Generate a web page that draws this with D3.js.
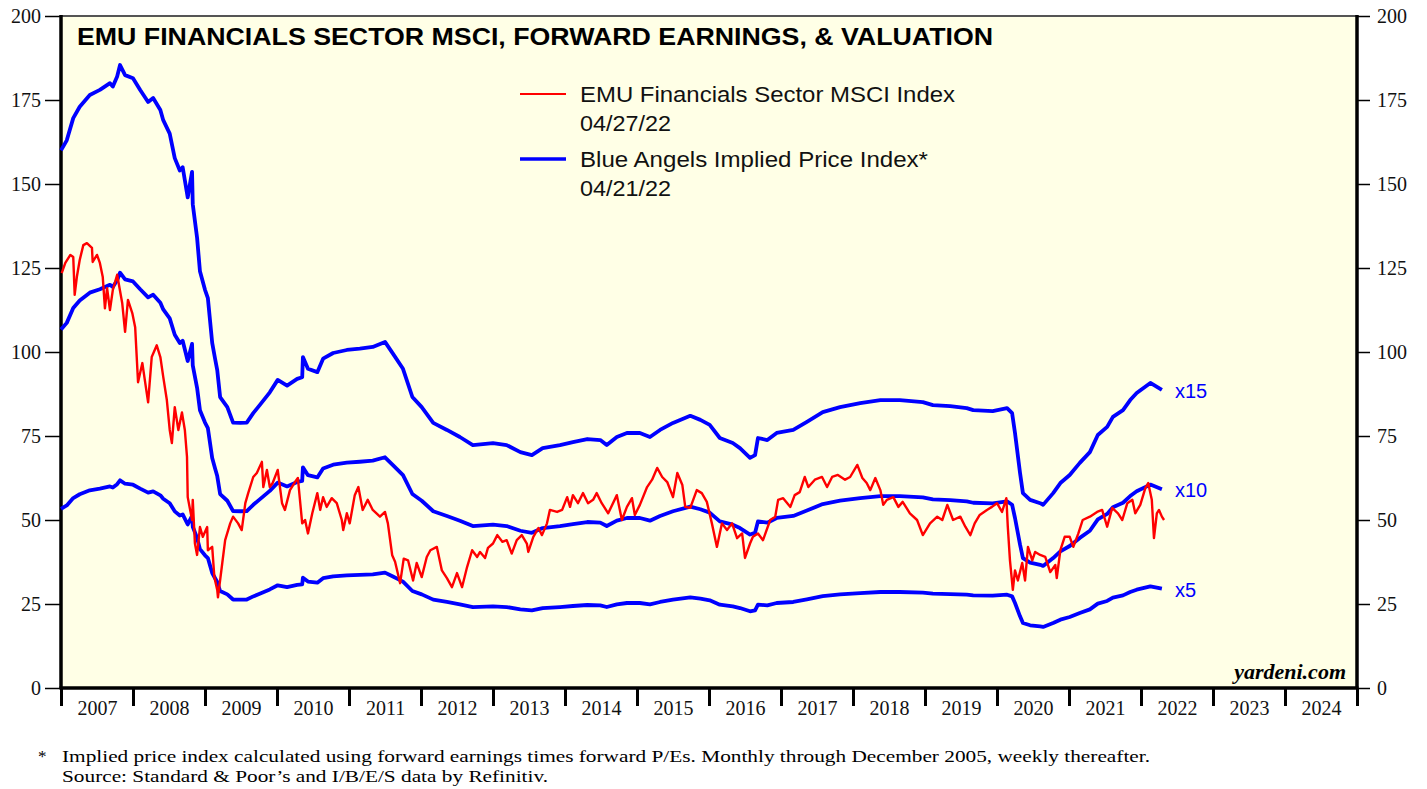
<!DOCTYPE html>
<html>
<head>
<meta charset="utf-8">
<script src="https://cdn.jsdelivr.net/npm/d3@7"></script>
<style>
  body { margin: 0; background: #fff; }
</style>
</head>
<body>
<svg id="chart" width="1427" height="789"></svg>
<script>
// EMU Financials MSCI index (decimal year, index value)
const msciYears = [
  2007.01, 2007.06, 2007.13, 2007.17, 2007.19, 2007.22, 2007.26, 2007.31, 2007.36, 2007.43,
  2007.44, 2007.50, 2007.54, 2007.58, 2007.61, 2007.64, 2007.68, 2007.72, 2007.78, 2007.85,
  2007.89, 2007.93, 2007.99, 2008.03, 2008.07, 2008.13, 2008.17, 2008.21, 2008.26, 2008.33,
  2008.38, 2008.42, 2008.47, 2008.51, 2008.54, 2008.58, 2008.63, 2008.68, 2008.72, 2008.75,
  2008.76, 2008.82, 2008.83, 2008.86, 2008.89, 2008.93, 2008.97, 2009.03, 2009.04, 2009.10,
  2009.13, 2009.17, 2009.18, 2009.24, 2009.28, 2009.35, 2009.39, 2009.46, 2009.51, 2009.56,
  2009.60, 2009.67, 2009.72, 2009.79, 2009.81, 2009.86, 2009.90, 2009.94, 2010.01, 2010.07,
  2010.11, 2010.18, 2010.25, 2010.29, 2010.35, 2010.39, 2010.43, 2010.49, 2010.56, 2010.60,
  2010.64, 2010.69, 2010.76, 2010.83, 2010.90, 2010.92, 2010.97, 2011.01, 2011.08, 2011.13,
  2011.19, 2011.26, 2011.33, 2011.43, 2011.50, 2011.54, 2011.60, 2011.64, 2011.71, 2011.76,
  2011.82, 2011.89, 2011.94, 2012.01, 2012.08, 2012.13, 2012.22, 2012.29, 2012.36, 2012.43,
  2012.50, 2012.57, 2012.64, 2012.71, 2012.78, 2012.82, 2012.89, 2012.93, 2013.00, 2013.06,
  2013.13, 2013.19, 2013.26, 2013.33, 2013.40, 2013.47, 2013.49, 2013.56, 2013.63, 2013.68,
  2013.75, 2013.79, 2013.89, 2013.96, 2014.03, 2014.07, 2014.11, 2014.18, 2014.25, 2014.32,
  2014.39, 2014.44, 2014.51, 2014.60, 2014.72, 2014.79, 2014.86, 2014.93, 2014.97, 2015.04,
  2015.14, 2015.21, 2015.28, 2015.35, 2015.42, 2015.50, 2015.56, 2015.63, 2015.67, 2015.74,
  2015.83, 2015.90, 2015.97, 2016.04, 2016.11, 2016.18, 2016.25, 2016.32, 2016.39, 2016.46,
  2016.50, 2016.57, 2016.61, 2016.68, 2016.75, 2016.85, 2016.92, 2016.96, 2017.03, 2017.13,
  2017.19, 2017.26, 2017.33, 2017.38, 2017.47, 2017.57, 2017.64, 2017.71, 2017.79, 2017.89,
  2017.96, 2018.06, 2018.13, 2018.19, 2018.24, 2018.31, 2018.38, 2018.42, 2018.47, 2018.56,
  2018.63, 2018.69, 2018.79, 2018.89, 2018.97, 2019.07, 2019.17, 2019.24, 2019.31, 2019.39,
  2019.49, 2019.56, 2019.63, 2019.69, 2019.76, 2019.86, 2019.93, 2020.00, 2020.07, 2020.13,
  2020.15, 2020.18, 2020.22, 2020.25, 2020.29, 2020.35, 2020.39, 2020.43, 2020.49, 2020.53,
  2020.60, 2020.67, 2020.74, 2020.81, 2020.83, 2020.88, 2020.94, 2021.01, 2021.06, 2021.13,
  2021.19, 2021.29, 2021.39, 2021.46, 2021.53, 2021.60, 2021.68, 2021.74, 2021.81, 2021.88,
  2021.92, 2021.99, 2022.06, 2022.10, 2022.15, 2022.18, 2022.22, 2022.25, 2022.29, 2022.32
];
const msciValues = [
  123.5, 126.5, 128.9, 128.3, 117, 122.3, 127.4, 131.8, 132.4, 131,
  126.8, 128.9, 126.5, 122.3, 113, 119, 112.5, 118.5, 123, 114.6,
  106, 115.5, 111.6, 107.4, 91, 96.7, 90.8, 85, 98.5, 102,
  98.5, 92.6, 85.7, 76.8, 72.9, 83.6, 76.8, 82, 76.8, 68.8,
  56.8, 50, 56, 43, 39.6, 47.9, 45, 47.9, 41, 42,
  33, 29.2, 27, 37.2, 44, 49, 51, 49, 47, 55,
  58, 62.8, 64, 67.3, 59.8, 64.9, 59.8, 61, 64.9, 55,
  53, 58.9, 61.3, 62.5, 49, 50, 46, 52, 58, 53,
  56.8, 53.9, 56.5, 55, 50, 47, 52, 49, 57.4, 59.8,
  53, 56, 53, 51, 52.4, 49, 39.5, 37.6, 31.2, 38.5,
  38, 32, 37.2, 33, 39, 41, 42, 35, 32.7, 30,
  34.2, 30, 36, 41, 39, 40.5, 38.7, 41.7, 43, 45.5,
  43.5, 44, 40, 44, 45.5, 43, 40.5, 45, 47.6, 45.5,
  49, 53, 52.4, 53, 56.8, 53.9, 57.4, 55, 58, 55,
  56, 58, 55, 52, 57.4, 50, 53.9, 56.5, 51.5, 54.5,
  59.8, 62, 65.5, 62.8, 61.3, 56.8, 64, 60.4, 53.9, 53.6,
  58.9, 58, 55.4, 49, 42, 49, 47, 49, 44.6, 46,
  38.7, 43, 45, 46, 44, 50, 51, 56, 56.5, 53.9,
  57.4, 58.3, 62.8, 59.8, 62, 62.8, 59.8, 62.8, 63.4, 62,
  62.8, 66.4, 62.5, 61, 58.9, 62.5, 58.9, 54.5, 56, 56.8,
  53.9, 55.4, 52, 50, 45.5, 49, 51, 50, 54.5, 50,
  51, 48, 45.5, 49, 51.5, 53, 53.9, 55, 52.4, 56.5,
  48, 38, 29.2, 35, 32, 37.2, 32, 42, 38, 40.5,
  39.6, 39, 34.5, 36.6, 32.7, 41, 45, 45, 42, 46,
  50, 51, 52.4, 53, 48, 53.6, 52, 50, 55, 56,
  52, 54.5, 59.5, 61, 56, 44.6, 52, 53, 51, 50
];

// Blue Angels implied price index at a forward P/E of 15 (decimal year, value)
const impliedYears = [
  2007.00, 2007.08, 2007.17, 2007.26, 2007.40, 2007.54, 2007.68, 2007.72, 2007.78, 2007.82,
  2007.89, 2008.00, 2008.10, 2008.21, 2008.28, 2008.38, 2008.42, 2008.51, 2008.58, 2008.65,
  2008.69, 2008.76, 2008.82, 2008.83, 2008.89, 2008.93, 2009.00, 2009.04, 2009.10, 2009.14,
  2009.17, 2009.21, 2009.31, 2009.39, 2009.49, 2009.58, 2009.67, 2009.76, 2009.90, 2010.01,
  2010.14, 2010.28, 2010.35, 2010.36, 2010.43, 2010.56, 2010.64, 2010.78, 2010.97, 2011.15,
  2011.33, 2011.50, 2011.61, 2011.75, 2011.88, 2012.01, 2012.17, 2012.36, 2012.54, 2012.72,
  2013.00, 2013.19, 2013.38, 2013.54, 2013.69, 2013.93, 2014.11, 2014.31, 2014.49, 2014.58,
  2014.72, 2014.86, 2015.04, 2015.18, 2015.32, 2015.50, 2015.74, 2015.88, 2016.01, 2016.15,
  2016.33, 2016.43, 2016.57, 2016.64, 2016.68, 2016.81, 2016.94, 2017.17, 2017.36, 2017.58,
  2017.82, 2018.10, 2018.38, 2018.65, 2018.97, 2019.11, 2019.35, 2019.58, 2019.67, 2019.94,
  2020.14, 2020.21, 2020.25, 2020.32, 2020.36, 2020.46, 2020.60, 2020.64, 2020.78, 2020.88,
  2021.01, 2021.15, 2021.29, 2021.40, 2021.53, 2021.61, 2021.75, 2021.85, 2021.94, 2022.13,
  2022.29
];
const impliedAt15 = [
  160, 163, 169.6, 173, 176.5, 178, 180, 179, 182, 185.4,
  182.4, 181.5, 178, 174.4, 175.6, 172, 169, 165, 157.7, 154,
  155, 146, 153.6, 144, 134, 124, 118.5, 116, 102.7, 98,
  94.6, 86.6, 83.6, 79, 78.9, 79, 81.8, 84.2, 88, 91.7,
  90, 92, 92.5, 98.5, 95, 94, 98, 99.7, 100.6, 101,
  101.5, 103, 99.5, 95, 86.6, 83.6, 78.9, 76.8, 74.7, 72.3,
  72.9, 72.3, 70.2, 69.3, 71.4, 72.3, 73.2, 74.1, 73.8, 72.3,
  74.7, 75.9, 75.9, 74.7, 76.8, 78.9, 81, 79.8, 78.3, 74.4,
  72.9, 71.4, 68.5, 69.3, 74.4, 73.8, 75.9, 76.8, 79.2, 82.1,
  83.6, 84.8, 85.7, 85.7, 85.1, 84.2, 83.9, 83.3, 82.7, 82.4,
  83.3, 81.8, 75.9, 64, 58, 56, 55, 54.5, 58, 61,
  63.4, 67, 70.2, 75.3, 77.7, 80.7, 82.7, 85.7, 87.8, 90.8,
  88.7
];
const peMultiples = [15, 10, 5];
const peLabels = ["x15", "x10", "x5"];

const yTicks = [0, 25, 50, 75, 100, 125, 150, 175, 200];
const yearLabels = [2007, 2008, 2009, 2010, 2011, 2012, 2013, 2014, 2015, 2016, 2017, 2018, 2019, 2020, 2021, 2022, 2023, 2024];

const sans = "'Liberation Sans', Arial, sans-serif";
const serif = "'Liberation Serif', 'Times New Roman', serif";

const svg = d3.select("#chart");
const plot = { left: 61, right: 1357, top: 16, bottom: 688 };

const x = d3.scaleLinear().domain([2007, 2025]).range([plot.left, plot.right]);
const y = d3.scaleLinear().domain([0, 200]).range([plot.bottom, plot.top]);

// plot background
svg.append("rect")
  .attr("x", plot.left).attr("y", plot.top)
  .attr("width", plot.right - plot.left).attr("height", plot.bottom - plot.top)
  .attr("fill", "#ffffe6");

// left axis
const yLeft = svg.append("g")
  .attr("transform", `translate(${plot.left},0)`)
  .call(d3.axisLeft(y).tickValues(yTicks).tickSize(16).tickPadding(4));
// right axis
const yRight = svg.append("g")
  .attr("transform", `translate(${plot.right},0)`)
  .call(d3.axisRight(y).tickValues(yTicks).tickSize(13).tickPadding(7));
[yLeft, yRight].forEach(g => {
  g.select(".domain").remove();
  g.selectAll("line").attr("stroke", "#000").attr("stroke-width", 1.5);
  g.selectAll("text").attr("font-family", serif).attr("font-size", 20).attr("fill", "#111");
});

// bottom year ticks
const xTickG = svg.append("g")
  .attr("transform", `translate(0,${plot.bottom})`)
  .call(d3.axisBottom(x).tickValues(d3.range(2007, 2026)).tickSize(18).tickFormat(""));
xTickG.select(".domain").remove();
xTickG.selectAll("line").attr("stroke", "#000").attr("stroke-width", 3);

const xLabG = svg.append("g")
  .attr("transform", `translate(0,${plot.bottom})`)
  .call(d3.axisBottom(x).tickValues(yearLabels.map(d => d + 0.5)).tickSize(0).tickPadding(13)
    .tickFormat(d => String(Math.floor(d))));
xLabG.select(".domain").remove();
xLabG.selectAll("text").attr("font-family", serif).attr("font-size", 20).attr("fill", "#111");

// frame
svg.append("line").attr("x1", plot.left).attr("x2", plot.right).attr("y1", plot.top).attr("y2", plot.top)
  .attr("stroke", "#555").attr("stroke-width", 2);
svg.append("line").attr("x1", plot.left).attr("x2", plot.left).attr("y1", plot.top - 1).attr("y2", plot.bottom)
  .attr("stroke", "#000").attr("stroke-width", 3.5);
svg.append("line").attr("x1", plot.right).attr("x2", plot.right).attr("y1", plot.top - 1).attr("y2", plot.bottom)
  .attr("stroke", "#000").attr("stroke-width", 3.5);
svg.append("line").attr("x1", plot.left - 1.5).attr("x2", plot.right + 1.5).attr("y1", plot.bottom).attr("y2", plot.bottom)
  .attr("stroke", "#000").attr("stroke-width", 3.5);

// lines
const implied = impliedYears.map((t, i) => ({ t, v: impliedAt15[i] }));
const msci = msciYears.map((t, i) => ({ t, v: msciValues[i] }));

peMultiples.forEach((m, k) => {
  const line = d3.line().x(d => x(d.t)).y(d => y(d.v * m / 15));
  svg.append("path")
    .datum(implied)
    .attr("d", line)
    .attr("fill", "none")
    .attr("stroke", "#0000ff")
    .attr("stroke-width", 3.8)
    .attr("stroke-linejoin", "round");
  const last = implied[implied.length - 1];
  svg.append("text")
    .attr("x", x(last.t) + 13)
    .attr("y", y(last.v * m / 15) + 8)
    .attr("font-family", sans).attr("font-size", 20).attr("fill", "#0000ff")
    .text(peLabels[k]);
});

svg.append("path")
  .datum(msci)
  .attr("d", d3.line().x(d => x(d.t)).y(d => y(d.v)))
  .attr("fill", "none")
  .attr("stroke", "#ff0000")
  .attr("stroke-width", 2.4)
  .attr("stroke-linejoin", "round");

// title
svg.append("text")
  .attr("x", 77).attr("y", 45)
  .attr("font-family", sans).attr("font-size", 24).attr("font-weight", "bold")
  .attr("textLength", 916).attr("lengthAdjust", "spacingAndGlyphs")
  .text("EMU FINANCIALS SECTOR MSCI, FORWARD EARNINGS, & VALUATION");

// legend
const legend = [
  { color: "#ff0000", width: 2.2, y: 94, lines: ["EMU Financials Sector MSCI Index", "04/27/22"], widths: [375, 91] },
  { color: "#0000ff", width: 3.5, y: 159, lines: ["Blue Angels Implied Price Index*", "04/21/22"], widths: [348, 91] }
];
legend.forEach(l => {
  svg.append("line").attr("x1", 520).attr("x2", 566).attr("y1", l.y).attr("y2", l.y)
    .attr("stroke", l.color).attr("stroke-width", l.width);
  l.lines.forEach((s, i) => {
    svg.append("text")
      .attr("x", 580).attr("y", l.y + 8 + i * 29)
      .attr("font-family", sans).attr("font-size", 22).attr("fill", "#111")
      .attr("textLength", l.widths[i]).attr("lengthAdjust", "spacingAndGlyphs")
      .text(s);
  });
});

// watermark
svg.append("text")
  .attr("x", 1346).attr("y", 679).attr("text-anchor", "end")
  .attr("font-family", serif).attr("font-size", 22)
  .attr("font-weight", "bold").attr("font-style", "italic")
  .text("yardeni.com");

// footnote
svg.append("text").attr("x", 38).attr("y", 762)
  .attr("font-family", serif).attr("font-size", 17).text("*");
svg.append("text").attr("x", 62).attr("y", 762)
  .attr("font-family", serif).attr("font-size", 17)
  .attr("textLength", 1088).attr("lengthAdjust", "spacingAndGlyphs")
  .text("Implied price index calculated using forward earnings times forward P/Es. Monthly through December 2005, weekly thereafter.");
svg.append("text").attr("x", 62).attr("y", 782)
  .attr("font-family", serif).attr("font-size", 17)
  .attr("textLength", 486).attr("lengthAdjust", "spacingAndGlyphs")
  .text("Source: Standard & Poor\u2019s and I/B/E/S data by Refinitiv.");
</script>
</body>
</html>
